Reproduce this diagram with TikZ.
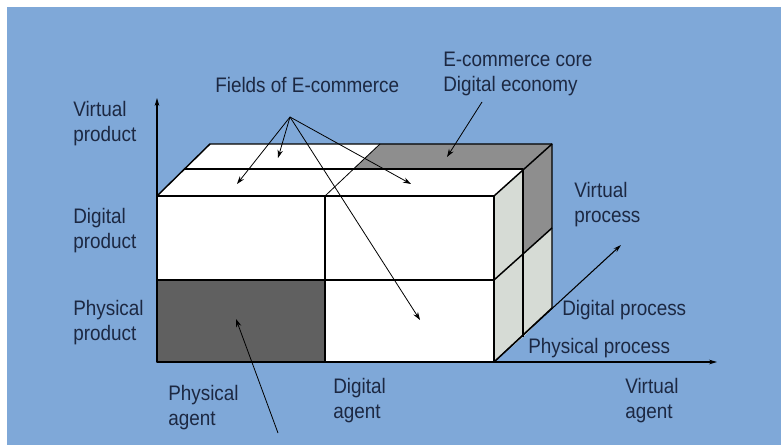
\documentclass[tikz,border=0pt]{standalone}
\usepackage{fontspec}
\setmainfont{Liberation Sans}[FakeStretch=0.9]
\usetikzlibrary{arrows.meta}
\definecolor{bgblue}{RGB}{127,168,216}
\definecolor{txt}{RGB}{28,40,66}
\definecolor{darkface}{RGB}{96,96,96}
\definecolor{midgray}{RGB}{142,142,142}
\definecolor{lightface}{RGB}{214,219,213}
\tikzset{
  lbl/.style={anchor=north west, inner sep=0pt, align=left, text=txt,
    font=\fontsize{15.75pt}{18.5pt}\selectfont},
  edge/.style={draw=black, line width=1.1pt, line join=round},
  ptr/.style={draw=black, line width=0.6pt, -{Stealth[length=6pt,width=4pt]}},
  axis/.style={draw=black, line width=0.8pt, -{Stealth[length=6pt,width=3.5pt]}},
}
\begin{document}
\begin{tikzpicture}[x=0.75pt,y=-0.75pt]
\useasboundingbox (0,0) rectangle (781,445);
\fill[white] (0,0) rectangle (781,445);
\fill[bgblue] (7,7) rectangle (781,445);

% cube coordinates
\coordinate (FTL) at (157,196);
\coordinate (FTR) at (494,196);
\coordinate (FBR) at (494,362);
\coordinate (FBL) at (157,362);

% front face
\fill[white] (157,196) rectangle (494,362);
\fill[darkface] (157,280) rectangle (325,362);
% top face
\fill[white] (157,196) -- (494,196) -- (523,169) -- (184,169) -- cycle;
\fill[white] (184,169) -- (210,144) -- (380,144) -- (353,169) -- cycle;
\fill[midgray] (353,169) -- (380,144) -- (552,144) -- (523,169) -- cycle;
% right face
\fill[lightface] (494,196) -- (523,169) -- (523,337) -- (494,362) -- cycle;
\fill[lightface] (523,253) -- (552,228) -- (552,308) -- (523,337) -- cycle;
\fill[midgray] (523,169) -- (552,144) -- (552,228) -- (523,253) -- cycle;

% edges
\draw[edge] (157,196) rectangle (494,362);
\draw[edge] (325,196) -- (325,362);
\draw[edge] (157,280) -- (494,280);
\draw[edge] (157,196) -- (210,144) -- (552,144) -- (552,308) -- (494,362);
\draw[edge] (494,196) -- (552,144);
\draw[edge] (184,169) -- (523,169) -- (523,337);
\draw[edge] (494,280) -- (552,228);
\draw[draw=black, line width=0.6pt] (325,196) -- (380,144);

% axes
\coordinate (O) at (157,362);
\coordinate (Ytip) at (157,98);
\coordinate (Xtip) at (717,362);
\coordinate (Ztip) at (621,245);
\draw[axis] (O) -- (Ytip);
\draw[axis] (O) -- (Xtip);
\draw[axis] (FBR) -- (Ztip);

% labels
\node[lbl] (fields) at (215,77) {Fields of E-commerce};
\node[lbl] (core) at (443,52) {E-commerce core\\Digital economy};
\node[lbl] (vprod) at (73,101) {Virtual\\product};
\node[lbl] (dprod) at (73,208) {Digital\\product};
\node[lbl] (pprod) at (73,300) {Physical\\product};
\node[lbl] (pagent) at (168,385) {Physical\\agent};
\node[lbl] (dagent) at (333,378) {Digital\\agent};
\node[lbl] (vagent) at (625,378) {Virtual\\agent};
\node[lbl] (vproc) at (574,182) {Virtual\\process};
\node[lbl] (dproc) at (562,300) {Digital process};
\node[lbl] (pproc) at (528,338) {Physical process};

% pointer arrows
\coordinate (fo) at (290,117);
\coordinate (t1) at (237,184);
\coordinate (t2) at (278,158);
\coordinate (t3) at (411,184);
\coordinate (t4) at (420,320);
\draw[ptr] (fo) -- (t1);
\draw[ptr] (fo) -- (t2);
\draw[ptr] (fo) -- (t3);
\draw[ptr] (fo) -- (t4);
\coordinate (co) at (482,102);
\coordinate (ct) at (447,157);
\draw[ptr] (co) -- (ct);
\coordinate (po) at (278,433);
\coordinate (pt) at (236,319);
\draw[ptr] (po) -- (pt);
\end{tikzpicture}
\end{document}
